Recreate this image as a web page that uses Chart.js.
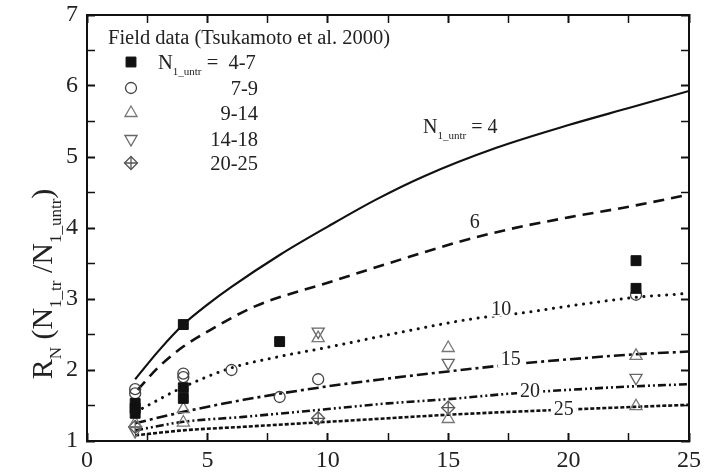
<!DOCTYPE html>
<html>
<head>
<meta charset="utf-8">
<script src="https://cdn.jsdelivr.net/npm/chart.js@4.4.0/dist/chart.umd.min.js"></script>
<style>
  html, body { margin: 0; padding: 0; background: #fff; }
</style>
</head>
<body>
<canvas id="chart" width="705" height="474"></canvas>
<script>
// curves: R_N vs x for each N1_untr
const curveNames = ['4', '6', '10', '15', '20', '25'];
const n4X = [2, 3, 4, 5, 6, 8, 10, 12, 14, 17, 20, 22.5, 25];
const n4Y = [1.87, 2.28, 2.64, 2.92, 3.17, 3.62, 4.02, 4.4, 4.73, 5.13, 5.45, 5.69, 5.93];
const n6X = [2.1, 3, 4, 5, 7, 10, 12.5, 15.5, 17.5, 20, 22.5, 25];
const n6Y = [1.72, 2.05, 2.33, 2.54, 2.9, 3.23, 3.5, 3.81, 3.98, 4.15, 4.3, 4.47];
const n10X = [2.3, 4, 6, 8, 10, 13, 16, 18, 20, 22.7, 25];
const n10Y = [1.46, 1.76, 2.03, 2.19, 2.32, 2.53, 2.72, 2.8, 2.9, 3.02, 3.08];
const n15X = [2, 4, 6.5, 10, 12.5, 15, 18, 20, 22.7, 25];
const n15Y = [1.25, 1.41, 1.58, 1.77, 1.88, 1.98, 2.09, 2.15, 2.22, 2.26];
const n20X = [2, 4, 6.5, 10, 12.5, 15, 17.7, 20, 22.7, 25];
const n20Y = [1.15, 1.27, 1.34, 1.45, 1.53, 1.59, 1.67, 1.72, 1.77, 1.80];
const n25X = [2, 4, 6.5, 10, 12.5, 15, 19, 22.7, 25];
const n25Y = [1.08, 1.15, 1.2, 1.27, 1.32, 1.37, 1.43, 1.48, 1.51];

// field data (Tsukamoto et al. 2000)
const fieldGroups = ['4-7', '7-9', '9-14', '14-18', '20-25'];
const sqX = [2, 2, 2, 4, 4, 4, 8, 22.8, 22.8];
const sqY = [1.53, 1.46, 1.39, 2.64, 1.75, 1.6, 2.4, 3.54, 3.15];
const ciX = [2, 2, 4, 4, 6, 8, 9.6, 22.8];
const ciY = [1.73, 1.67, 1.95, 1.9, 2.0, 1.62, 1.87, 3.06];
const tuX = [2, 4, 4, 9.6, 15, 15, 22.8, 22.8];
const tuY = [1.25, 1.45, 1.26, 2.45, 2.31, 1.31, 2.2, 1.49];
const tdX = [2, 9.6, 15, 22.8];
const tdY = [1.14, 2.54, 2.1, 1.89];
const diX = [2, 9.6, 15];
const diY = [1.2, 1.32, 1.47];

// where the curve labels sit (data units)
const labelX = [15.5, 16.1, 17.2, 17.6, 18.4, 19.8];
const labelY = [5.43, 4.07, 2.85, 2.14, 1.70, 1.44];

const FONT = '"Liberation Serif", "DejaVu Serif", serif';
const TXT = '#222';
const AXIS = '#111';

function pts(xs, ys) {
  return xs.map((x, i) => ({ x: x, y: ys[i] }));
}

function curve(xs, ys, dash, width, cap) {
  return {
    type: 'line', data: pts(xs, ys), borderColor: '#111', borderWidth: width,
    borderDash: dash, borderCapStyle: cap || 'butt', pointRadius: 0,
    cubicInterpolationMode: 'monotone', fill: false, order: 2
  };
}

const markerStyles = [
  { pointStyle: 'rect', radius: 7, rotation: 0, backgroundColor: '#111', borderColor: '#111', borderWidth: 1 },
  { pointStyle: 'circle', radius: 5.5, rotation: 0, backgroundColor: 'rgba(255,255,255,0)', borderColor: '#444', borderWidth: 1.3 },
  { pointStyle: 'triangle', radius: 7, rotation: 0, backgroundColor: 'rgba(255,255,255,0)', borderColor: '#777', borderWidth: 1.3 },
  { pointStyle: 'triangle', radius: 7, rotation: 180, backgroundColor: 'rgba(255,255,255,0)', borderColor: '#666', borderWidth: 1.3 },
  { pointStyle: 'rectRot', radius: 6.5, rotation: 0, backgroundColor: 'rgba(255,255,255,0)', borderColor: '#555', borderWidth: 1.3 }
];

function markers(xs, ys, st) {
  return {
    type: 'scatter', data: pts(xs, ys), showLine: false, order: 0,
    pointStyle: st.pointStyle, pointRadius: st.radius, pointRotation: st.rotation,
    pointBackgroundColor: st.backgroundColor, pointBorderColor: st.borderColor, pointBorderWidth: st.borderWidth
  };
}

// text with subscripts: parts = [[text, isSub], ...]
function richText(ctx, parts, x, y, size, align) {
  const subSize = Math.round(size * 0.55);
  let w = 0;
  parts.forEach(p => {
    ctx.font = (p[1] ? subSize : size) + 'px ' + FONT;
    w += ctx.measureText(p[0]).width;
  });
  let cx = align === 'center' ? x - w / 2 : (align === 'right' ? x - w : x);
  ctx.textAlign = 'left';
  ctx.textBaseline = 'alphabetic';
  parts.forEach(p => {
    ctx.font = (p[1] ? subSize : size) + 'px ' + FONT;
    ctx.fillText(p[0], cx, p[1] ? y + size * 0.3 : y);
    cx += ctx.measureText(p[0]).width;
  });
  return w;
}

const decorPlugin = {
  id: 'decor',
  afterDatasetsDraw(chart) {
    const ctx = chart.ctx;
    const xs = chart.scales.x, ys = chart.scales.y;

    ctx.save();
    // curve labels
    for (let i = 0; i < curveNames.length; i++) {
      const px = xs.getPixelForValue(labelX[i]);
      const py = ys.getPixelForValue(labelY[i]);
      ctx.fillStyle = TXT;
      if (i === 0) {
        richText(ctx, [['N', false], ['1_untr', true], [' = 4', false]], px, py + 7, 20, 'center');
        continue;
      }
      ctx.font = '20px ' + FONT;
      const w = ctx.measureText(curveNames[i]).width;
      if (i > 1) {
        ctx.fillStyle = '#fff';
        ctx.fillRect(px - w / 2 - 3, py - 7, w + 6, 14);
      }
      ctx.fillStyle = TXT;
      ctx.textAlign = 'center';
      ctx.textBaseline = 'middle';
      ctx.fillText(curveNames[i], px, py);
    }

    // legend, fixed in the top-left corner of the plot
    ctx.fillStyle = TXT;
    richText(ctx, [['Field data (Tsukamoto et al. 2000)', false]], 108, 44, 20.5, 'left');
    const rowY = [62, 88, 113, 139, 163];
    for (let i = 0; i < fieldGroups.length; i++) {
      const st = markerStyles[i];
      const mx = 131, my = rowY[i];
      ctx.setLineDash([]);
      ctx.fillStyle = st.backgroundColor;
      ctx.strokeStyle = st.borderColor;
      ctx.lineWidth = st.borderWidth;
      Chart.helpers.drawPoint(ctx, {
        pointStyle: st.pointStyle, radius: st.radius, rotation: st.rotation, borderWidth: st.borderWidth
      }, mx, my);
      if (i === 4) {
        Chart.helpers.drawPoint(ctx, { pointStyle: 'cross', radius: 6.5, rotation: 0, borderWidth: 1.3 }, mx, my);
      }
      ctx.fillStyle = TXT;
      if (i === 0) {
        richText(ctx, [['N', false], ['1_untr', true], [' =  ' + fieldGroups[i], false]], 158, my + 7, 20.5, 'left');
      } else {
        richText(ctx, [[fieldGroups[i], false]], 258, my + 7, 20.5, 'right');
      }
    }
    ctx.restore();

    // y axis title
    ctx.save();
    ctx.fillStyle = TXT;
    ctx.translate(52, 284);
    ctx.rotate(-Math.PI / 2);
    richText(ctx, [['R', false], ['N', true], [' (N', false], ['1_tr', true], [' /N', false], ['1_untr', true], [')', false]], 0, 0, 30, 'center');
    ctx.restore();
  }
};

// inward tick marks (negative tick length) and a border on every side
function tickGrid() {
  return {
    display: true, drawOnChartArea: false, drawTicks: true, tickLength: -8,
    color: AXIS, tickWidth: c => (c.tick && c.tick.label !== '' ? 2 : 1.5)
  };
}
const axisBorder = { display: true, color: AXIS, width: 2 };

// fixed axis boxes, no extra label padding, so the plot sits at 87..689 x 15..441
function fixBox(w, h) {
  return function (scale) {
    if (w !== null) scale.width = w;
    if (h !== null) scale.height = h;
    scale.paddingTop = 0;
    scale.paddingBottom = 0;
    scale.paddingLeft = 0;
    scale.paddingRight = 0;
  };
}

new Chart(document.getElementById('chart').getContext('2d'), {
  data: {
    datasets: [
      curve(n4X, n4Y, [], 2.2),
      curve(n6X, n6Y, [11, 7], 2.6),
      curve(n10X, n10Y, [0.1, 7.5], 3, 'round'),
      curve(n15X, n15Y, [11, 4, 3, 4], 2.6),
      curve(n20X, n20Y, [8, 3, 2, 3, 2, 3], 2.6),
      curve(n25X, n25Y, [4, 2], 2.6),
      markers(sqX, sqY, markerStyles[0]),
      markers(ciX, ciY, markerStyles[1]),
      markers(tuX, tuY, markerStyles[2]),
      markers(tdX, tdY, markerStyles[3]),
      markers(diX, diY, markerStyles[4]),
      markers(diX, diY, Object.assign({}, markerStyles[4], { pointStyle: 'cross' }))
    ]
  },
  options: {
    responsive: false,
    animation: false,
    layout: { padding: { top: 15, right: 16, left: 0, bottom: 0 } },
    plugins: { legend: { display: false }, tooltip: { enabled: false } },
    scales: {
      x: {
        type: 'linear', position: 'bottom', min: 0, max: 25,
        grid: tickGrid(),
        border: axisBorder,
        ticks: {
          stepSize: 2.5, padding: 13, color: TXT, font: { family: FONT, size: 24 }, maxRotation: 0,
          autoSkip: false, callback: v => (v % 5 === 0 ? v : '')
        },
        afterFit: fixBox(null, 33)
      },
      y: {
        type: 'linear', position: 'left', min: 1, max: 7,
        grid: tickGrid(),
        border: axisBorder,
        ticks: {
          stepSize: 0.5, padding: 17, color: TXT, font: { family: FONT, size: 24 },
          autoSkip: false, callback: v => (v % 1 === 0 ? v : '')
        },
        afterFit: fixBox(87, null)
      },
      x2: {
        type: 'linear', axis: 'x', position: 'top', min: 0, max: 25,
        grid: tickGrid(),
        border: axisBorder,
        ticks: { display: false, stepSize: 2.5, autoSkip: false, callback: v => (v % 5 === 0 ? v : '') },
        afterFit: fixBox(null, 0)
      },
      y2: {
        type: 'linear', axis: 'y', position: 'right', min: 1, max: 7,
        grid: tickGrid(),
        border: axisBorder,
        ticks: { display: false, stepSize: 0.5, autoSkip: false, callback: v => (v % 1 === 0 ? v : '') },
        afterFit: fixBox(0, null)
      }
    }
  },
  plugins: [decorPlugin]
});
</script>
</body>
</html>
